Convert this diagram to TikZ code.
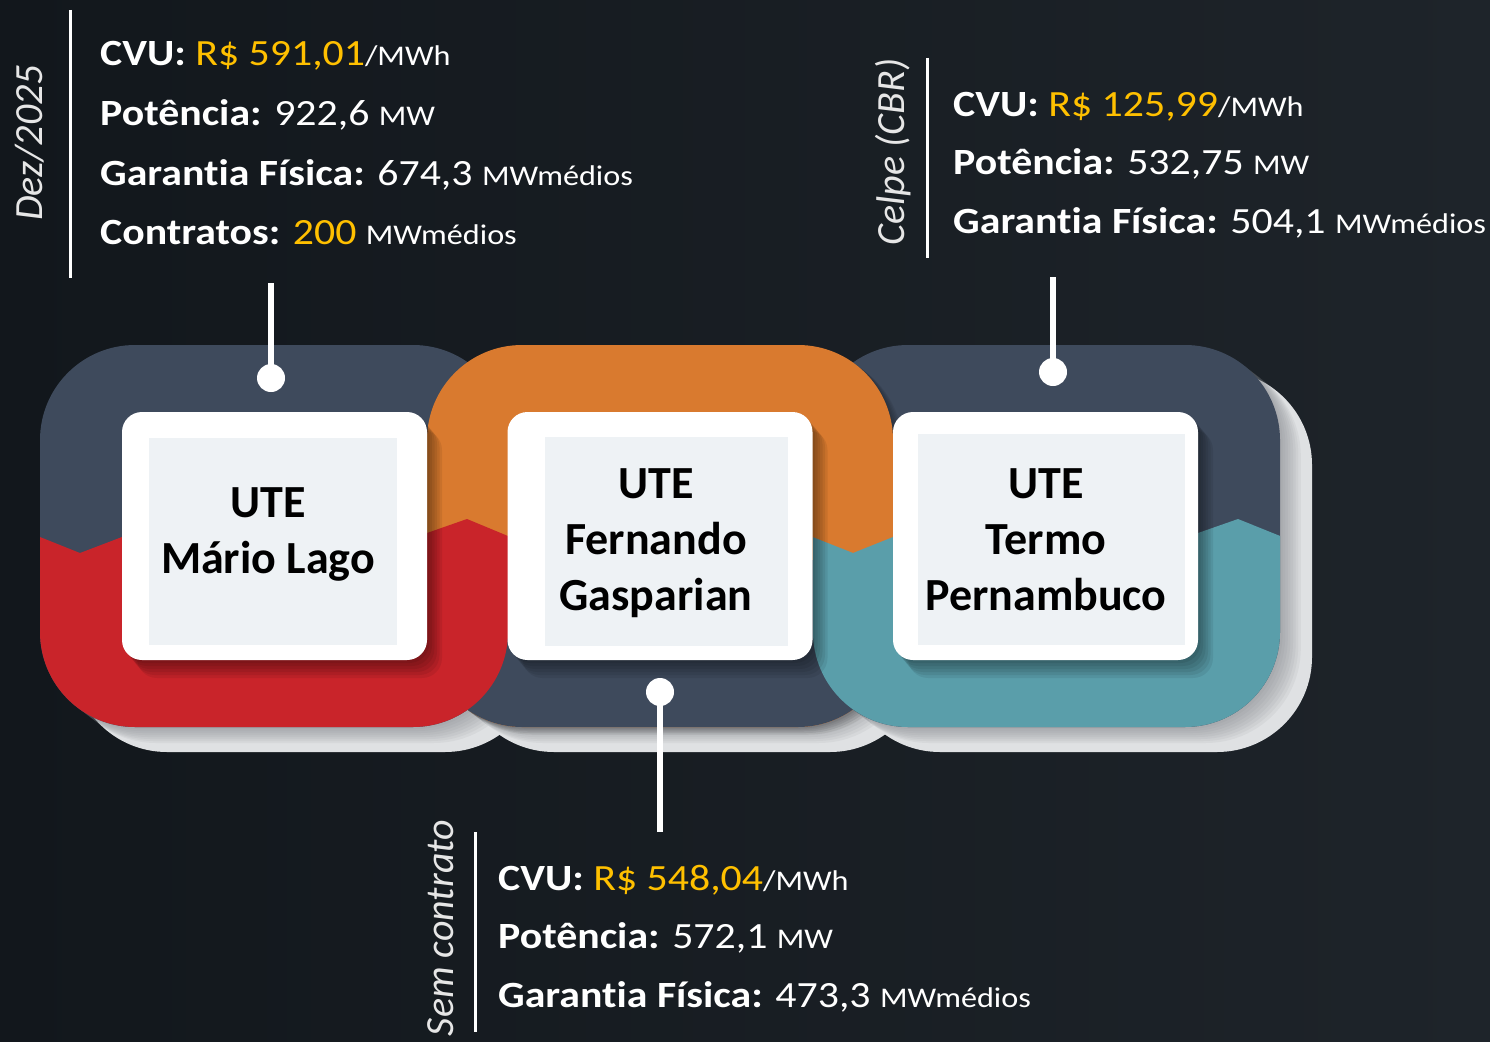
\documentclass[tikz,border=0pt]{standalone}
\usepackage{fontspec}
\setmainfont{Carlito}[Ligatures=NoCommon]
\newfontfamily\infofont{Carlito}[FakeStretch=1.13,Ligatures=NoCommon]
\definecolor{bgA}{HTML}{12171C}
\definecolor{bgB}{HTML}{1E242A}
\definecolor{slate}{HTML}{3E4A5C}
\definecolor{ured}{HTML}{C9242A}
\definecolor{uorange}{HTML}{D97A2F}
\definecolor{uteal}{HTML}{5A9EAA}
\definecolor{ugold}{HTML}{FFC000}
\definecolor{cardin}{HTML}{EEF2F5}
\definecolor{shlight}{HTML}{DFE1E3}
\definecolor{shmid}{HTML}{7E8287}
\definecolor{sidetext}{HTML}{E6E6E6}
\newcommand\smallu[1]{{\fontsize{28.5}{34}\selectfont #1}}
\newcommand\gold[1]{\textcolor{ugold}{#1}}
\begin{document}
\begin{tikzpicture}[x=1pt,y=-1pt,
  ringshape/.style={rounded corners=95pt},
  cardbox/.style={draw=none, fill=white, rounded corners=20pt, minimum width=305pt, minimum height=248pt, inner sep=0pt},
  cardtext/.style={anchor=north, align=center, inner sep=0pt, font=\bfseries\fontsize{46}{56}\selectfont, text=black},
  info/.style={anchor=base west, inner sep=0pt, text=white, font=\infofont\fontsize{37}{44}\selectfont},
  side/.style={rotate=90, inner sep=0pt, text=sidetext, font=\itshape\fontsize{40}{48}\selectfont},
  sepline/.style={draw=white, line width=3pt},
  conn/.style={draw=white, line width=6pt},
  dot/.style={circle, fill=white, minimum size=28pt, inner sep=0pt}
]
\useasboundingbox (0,0) rectangle (1490,1041);
\shade[left color=bgA, right color=bgB] (0,0) rectangle (1490,1041);

% ring shadows (light reflection offset to the lower right, darker near the ring)
\foreach \a/\b in {40/508,427/893,813/1280}{
  \fill[shlight, ringshape] (\a+32,370) rectangle (\b+32,752);
  \foreach \i in {1,...,8}{
    \fill[shmid, opacity=.09, ringshape] (\a+2.6*\i,345+2*\i) rectangle (\b+2.6*\i,727+2*\i);
  }
}

% rings: upper parts
\fill[slate, ringshape] (40,345) rectangle (508,727);
\fill[slate, ringshape] (813,345) rectangle (1280,727);
\foreach \i in {1,...,5}{
  \fill[black, opacity=.06, ringshape] (427+2*\i,345+1.5*\i) rectangle (893+2*\i,727+1.5*\i);
}
\fill[uorange, ringshape] (427,345) rectangle (893,727);
\begin{scope}
  \clip[ringshape] (427,345) rectangle (893,727);
  \fill[slate] (400,560) rectangle (900,760);
\end{scope}
% lower parts
\begin{scope}
  \clip[ringshape] (40,345) rectangle (508,727);
  \fill[ured] (20,529) -- (80,553) -- (122,537) -- (427,533) -- (467,519) -- (520,541) -- (520,740) -- (20,740) -- cycle;
\end{scope}
\begin{scope}
  \clip[ringshape] (813,345) rectangle (1280,727);
  \fill[uteal] (800,532) -- (853,553) -- (893,537) -- (1198,533) -- (1238,519) -- (1295,542) -- (1295,740) -- (800,740) -- cycle;
\end{scope}

% card shadows
\foreach \cx in {274.5,660,1045.5}{
  \foreach \i in {1,...,6}{
    \fill[black, opacity=.07, rounded corners=20pt] (\cx-152.5+2.5*\i,412+3*\i) rectangle (\cx+152.5+2.5*\i,660+3*\i);
  }
}
\node[cardbox] (k1) at (274.5,536) {};
\node[cardbox] (k2) at (660,536) {};
\node[cardbox] (k3) at (1045.5,536) {};
\fill[cardin] (149,438) rectangle (397,645);
\fill[cardin] (545,437) rectangle (788,646);
\fill[cardin] (918,434) rectangle (1185,645);

\node[cardtext] (t1) at (268,487) {UTE\\Mário Lago};
\node[cardtext] (t2) at (656,468) {UTE\\Fernando\\Gasparian};
\node[cardtext] (t3) at (1046,468) {UTE\\Termo\\Pernambuco};

% connectors
\coordinate (p1) at (271,283);
\node[dot] (d1) at (271,378) {};
\draw[conn] (p1) -- (d1.center);
\coordinate (p3) at (1053,277);
\node[dot] (d3) at (1053,372) {};
\draw[conn] (p3) -- (d3.center);
\coordinate (p2) at (660,832);
\node[dot] (d2) at (660,692) {};
\draw[conn] (p2) -- (d2.center);

% separators
\coordinate (s1a) at (70,10);  \coordinate (s1b) at (70,278);
\draw[sepline] (s1a) -- (s1b);
\coordinate (s2a) at (927,58); \coordinate (s2b) at (927,258);
\draw[sepline] (s2a) -- (s2b);
\coordinate (s3a) at (475,832); \coordinate (s3b) at (475,1032);
\draw[sepline] (s3a) -- (s3b);

% side labels
\node[side] (z1) at (30,143) {Dez/2025};
\node[side] (z2) at (893,152) {Celpe (CBR)};
\node[side] (z3) at (441,928) {Sem contrato};

% info block 1
\node[info] (a1) at (100,66) {\textbf{CVU:} \gold{R\$ 591,01}\smallu{/MWh}};
\node[info] (a2) at (100,125.5) {\textbf{Potência:} 922,6 \smallu{MW}};
\node[info] (a3) at (100,185) {\textbf{Garantia Física:} 674,3 \smallu{MWmédios}};
\node[info] (a4) at (100,244.5) {\textbf{Contratos:} \gold{200} \smallu{MWmédios}};
% info block 2
\node[info] (b1) at (953,116) {\textbf{CVU:} \gold{R\$ 125,99}\smallu{/MWh}};
\node[info] (b2) at (953,174.5) {\textbf{Potência:} 532,75 \smallu{MW}};
\node[info] (b3) at (953,233) {\textbf{Garantia Física:} 504,1 \smallu{MWmédios}};
% info block 3
\node[info] (c1) at (498,890) {\textbf{CVU:} \gold{R\$ 548,04}\smallu{/MWh}};
\node[info] (c2) at (498,948) {\textbf{Potência:} 572,1 \smallu{MW}};
\node[info] (c3) at (498,1007) {\textbf{Garantia Física:} 473,3 \smallu{MWmédios}};
\end{tikzpicture}
\end{document}
